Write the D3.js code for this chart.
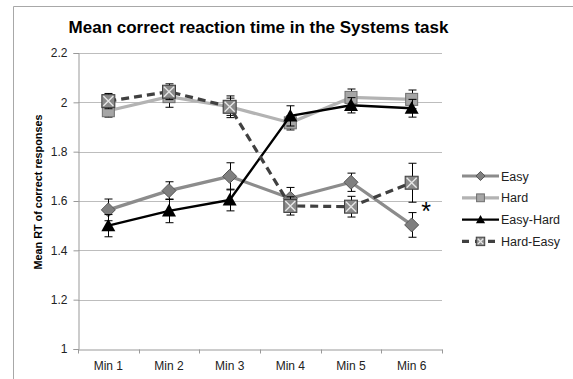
<!DOCTYPE html>
<html>
<head>
<meta charset="utf-8">
<script src="https://cdn.jsdelivr.net/npm/d3@7/dist/d3.min.js"></script>
<style>
  html, body { margin: 0; padding: 0; background: #fff; }
  svg { display: block; font-family: Arial, "Liberation Sans", sans-serif; }
</style>
</head>
<body>
<svg id="chart" width="573" height="379"></svg>
<script>
// Minutes of the task
const categories = ["Min 1", "Min 2", "Min 3", "Min 4", "Min 5", "Min 6"];

// Mean RT per condition
const easy     = [1.564, 1.642, 1.700, 1.611, 1.676, 1.503];
const hard     = [1.966, 2.023, 1.982, 1.917, 2.020, 2.012];
const easyHard = [1.500, 1.560, 1.604, 1.945, 1.988, 1.976];
const hardEasy = [2.005, 2.043, 1.982, 1.580, 1.577, 1.674];

// Standard error per condition
const easyErr     = [0.044, 0.036, 0.055, 0.044, 0.037, 0.050];
const hardErr     = [0.026, 0.043, 0.035, 0.029, 0.034, 0.038];
const easyHardErr = [0.045, 0.048, 0.044, 0.041, 0.031, 0.036];
const hardEasyErr = [0.031, 0.032, 0.044, 0.037, 0.042, 0.079];

const yTicks = [1, 1.2, 1.4, 1.6, 1.8, 2, 2.2];
const seriesNames = ["Easy", "Hard", "Easy-Hard", "Hard-Easy"];

const series = [
  { name: seriesNames[0], values: easy, err: easyErr, color: "#8c8c8c", width: 3.2, dash: null, marker: "diamond", fill: "#7f7f7f", mstroke: "#555" },
  { name: seriesNames[1], values: hard, err: hardErr, color: "#b3b3b3", width: 3.2, dash: null, marker: "square", fill: "#a6a6a6", mstroke: "#6e6e6e" },
  { name: seriesNames[2], values: easyHard, err: easyHardErr, color: "#000", width: 2.4, dash: null, marker: "triangle", fill: "#000", mstroke: "#000" },
  { name: seriesNames[3], values: hardEasy, err: hardEasyErr, color: "#404040", width: 3.2, dash: "8,5", marker: "xbox", fill: "#8a8a8a", mstroke: "#404040" }
];

const svg = d3.select("#chart");

// Outer chart frame
svg.append("path")
  .attr("d", "M13.5,379 L13.5,6.5 L573,6.5")
  .attr("fill", "none").attr("stroke", "#a8a8a8").attr("stroke-width", 1);

const plot = { left: 78, right: 442, top: 53, bottom: 349 };

const x = d3.scaleBand().domain(categories).range([plot.left, plot.right]);
const y = d3.scaleLinear().domain([1, 2.2]).range([plot.bottom, plot.top]);

// Title
svg.append("text")
  .attr("x", 258.5).attr("y", 33)
  .attr("text-anchor", "middle")
  .attr("font-size", 17).attr("font-weight", "bold").attr("fill", "#000")
  .text("Mean correct reaction time in the Systems task");

// Gridlines
svg.append("g")
  .selectAll("line").data(yTicks.slice(1)).join("line")
  .attr("x1", plot.left).attr("x2", plot.right)
  .attr("y1", d => Math.round(y(d)) + 0.5).attr("y2", d => Math.round(y(d)) + 0.5)
  .attr("stroke", "#bdbdbd").attr("stroke-width", 1);

// Y axis
const yAxis = svg.append("g")
  .attr("transform", `translate(${plot.left + 0.5},0)`)
  .call(d3.axisLeft(y).tickValues(yTicks).tickSize(5).tickPadding(6)
    .tickFormat(d => d3.format("~g")(d)));
yAxis.select(".domain").attr("stroke", "#999");
yAxis.selectAll(".tick line").attr("stroke", "#999");
yAxis.selectAll(".tick text").attr("font-size", 12).attr("fill", "#222")
  .attr("font-family", "Arial, 'Liberation Sans', sans-serif");

// X axis
const xAxis = svg.append("g")
  .attr("transform", `translate(0,${plot.bottom + 0.5})`)
  .call(d3.axisBottom(x).tickSize(0).tickPadding(12));
xAxis.select(".domain").attr("stroke", "#999");
xAxis.selectAll(".tick text").attr("font-size", 12).attr("fill", "#222")
  .attr("font-family", "Arial, 'Liberation Sans', sans-serif");
// Ticks between categories
xAxis.append("g").selectAll("line")
  .data(categories.map((c, i) => i === 0 ? plot.left : x(c)).concat([plot.right]))
  .join("line")
  .attr("x1", d => Math.round(d) + 0.5).attr("x2", d => Math.round(d) + 0.5)
  .attr("y1", 0).attr("y2", 4)
  .attr("stroke", "#999");

// Y axis title
svg.append("text")
  .attr("transform", `translate(42,192) rotate(-90)`)
  .attr("text-anchor", "middle")
  .attr("font-size", 10.8).attr("font-weight", "bold").attr("fill", "#000")
  .text("Mean RT of correct responses");

const cx = c => x(c) + x.bandwidth() / 2;

function drawMarker(g, s, px, py, scale = 1) {
  if (s.marker === "diamond") {
    const r = 7 * scale;
    g.append("path")
      .attr("d", `M${px},${py - r} L${px + r},${py} L${px},${py + r} L${px - r},${py} Z`)
      .attr("fill", s.fill).attr("stroke", s.mstroke).attr("stroke-width", 1);
  } else if (s.marker === "square") {
    const r = 6 * scale;
    g.append("rect")
      .attr("x", px - r).attr("y", py - r).attr("width", 2 * r).attr("height", 2 * r)
      .attr("fill", s.fill).attr("stroke", s.mstroke).attr("stroke-width", 1);
  } else if (s.marker === "triangle") {
    const r = 7 * scale;
    g.append("path")
      .attr("d", `M${px},${py - r} L${px + r},${py + r * 0.8} L${px - r},${py + r * 0.8} Z`)
      .attr("fill", s.fill);
  } else if (s.marker === "xbox") {
    const r = 6.5 * scale;
    g.append("rect")
      .attr("x", px - r).attr("y", py - r).attr("width", 2 * r).attr("height", 2 * r)
      .attr("fill", s.fill).attr("stroke", s.mstroke).attr("stroke-width", 1);
    g.append("path")
      .attr("d", `M${px - r + 1.5},${py - r + 1.5} L${px + r - 1.5},${py + r - 1.5} M${px + r - 1.5},${py - r + 1.5} L${px - r + 1.5},${py + r - 1.5}`)
      .attr("stroke", "#e6e6e6").attr("stroke-width", 1.4);
  }
}

const line = d3.line().x(d => d[0]).y(d => d[1]);

// Each series: error bars, line, markers
series.forEach(s => {
  const g = svg.append("g");
  const pts = s.values.map((v, i) => [cx(categories[i]), y(v)]);

  // Error bars
  s.values.forEach((v, i) => {
    const px = Math.round(cx(categories[i])) + 0.5;
    const top = y(v + s.err[i]), bot = y(v - s.err[i]);
    g.append("line").attr("x1", px).attr("x2", px).attr("y1", top).attr("y2", bot)
      .attr("stroke", "#000").attr("stroke-width", 1);
    [top, bot].forEach(yy => g.append("line")
      .attr("x1", px - 4).attr("x2", px + 4).attr("y1", yy).attr("y2", yy)
      .attr("stroke", "#000").attr("stroke-width", 1));
  });

  g.append("path").attr("d", line(pts))
    .attr("fill", "none").attr("stroke", s.color).attr("stroke-width", s.width)
    .attr("stroke-dasharray", s.dash).attr("stroke-linejoin", "round");

  pts.forEach(p => drawMarker(g, s, p[0], p[1]));
});

// Significance marker
svg.append("text")
  .attr("x", 426).attr("y", 220)
  .attr("text-anchor", "middle")
  .attr("font-size", 25).attr("fill", "#000")
  .text("*");

// Legend
const legend = svg.append("g");
series.forEach((s, i) => {
  const ly = 176 + i * 21.8;
  const lg = legend.append("g");
  lg.append("line").attr("x1", 462).attr("x2", 499).attr("y1", ly).attr("y2", ly)
    .attr("stroke", s.color).attr("stroke-width", s.width)
    .attr("stroke-dasharray", s.dash ? "7,6" : null);
  drawMarker(lg, s, 480.5, ly, 0.65);
  lg.append("text").attr("x", 501).attr("y", ly + 4.5)
    .attr("font-size", 12.5).attr("fill", "#222")
    .text(s.name);
});
</script>
</body>
</html>
